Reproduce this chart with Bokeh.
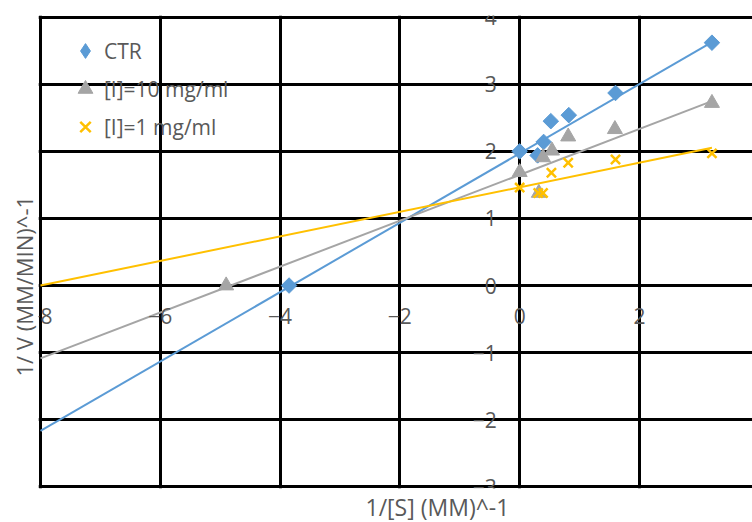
import numpy as np
from bokeh.plotting import figure
from bokeh.models import (LinearAxis, FixedTicker, Legend, LegendItem, Title,
                          Range1d, Grid)
from bokeh.embed import file_html
from bokeh.resources import INLINE

# ---- data ----
X_TICKS = [-8, -6, -4, -2, 0, 2, 4]
Y_TICKS = [-3, -2, -1, 0, 1, 2, 3, 4]

ctr_x = [-3.85, 0.0, 0.30, 0.40, 0.52, 0.82, 1.60, 3.21]
ctr_y = [0.0, 2.00, 1.94, 2.14, 2.45, 2.54, 2.87, 3.62]

i10_x = [-4.90, 0.0, 0.32, 0.39, 0.54, 0.81, 1.59, 3.21]
i10_y = [0.0, 1.69, 1.38, 1.91, 2.01, 2.22, 2.33, 2.72]

i1_x = [0.0, 0.31, 0.39, 0.53, 0.81, 1.60, 3.21]
i1_y = [1.46, 1.38, 1.38, 1.68, 1.83, 1.88, 1.97]

# linear trendlines (slope, intercept), drawn from x=-8 to the last point
trend_slope = [0.517, 0.342, 0.183]
trend_intercept = [1.97, 1.65, 1.465]
trend_x_start = -8.0

series_names = ["CTR", "[I]=10 mg/ml", "[I]=1 mg/ml"]
colors = ["#5B9BD5", "#A5A5A5", "#FFC000"]

x_title = "1/[S] (MM)^-1"
y_title = "1/ V (MM/MIN)^-1"

FONT = "Open Sans"
TXT = "#595959"

p = figure(width=752, height=522, output_backend="svg", toolbar_location=None,
           x_range=Range1d(-8.033, 3.887), y_range=Range1d(-3.025, 4.025),
           x_axis_location=None, y_axis_location=None,
           min_border_left=38, min_border_right=0, min_border_top=15,
           min_border_bottom=30)
p.outline_line_color = None
p.background_fill_color = "white"
p.border_fill_color = "white"

p.add_layout(Grid(dimension=0, ticker=FixedTicker(ticks=X_TICKS),
                  grid_line_color="black", grid_line_width=3))
p.add_layout(Grid(dimension=1, ticker=FixedTicker(ticks=Y_TICKS),
                  grid_line_color="black", grid_line_width=3))

def style_axis(ax, standoff):
    ax.axis_line_color = None
    ax.major_tick_line_color = None
    ax.minor_tick_line_color = None
    ax.major_label_text_color = TXT
    ax.major_label_text_font = FONT
    ax.major_label_text_font_size = "21px"
    ax.major_label_standoff = standoff

xaxis = LinearAxis(ticker=FixedTicker(ticks=X_TICKS), fixed_location=0)
style_axis(xaxis, 16)
p.add_layout(xaxis, "below")
yaxis = LinearAxis(ticker=FixedTicker(ticks=Y_TICKS), fixed_location=0)
style_axis(yaxis, 17)
p.add_layout(yaxis, "left")

# trendlines
xs_all = [ctr_x, i10_x, i1_x]
for k in range(3):
    xe = max(xs_all[k])
    tx = [trend_x_start, xe]
    ty = [trend_intercept[k] + trend_slope[k] * v for v in tx]
    p.line(tx, ty, line_color=colors[k], line_width=2)

r_ctr = p.scatter(ctr_x, ctr_y, marker="square", angle=np.pi / 4, size=11,
                  fill_color=colors[0], line_color=colors[0])
r_i10 = p.scatter(i10_x, i10_y, marker="triangle", size=15,
                  fill_color=colors[1], line_color=colors[1])
r_i1 = p.scatter(i1_x, i1_y, marker="x", size=13, line_width=2.5,
                 line_color=colors[2])
# legend-only glyph (diamond shape for the CTR key)
r_ctr_key = p.scatter(ctr_x, ctr_y, marker="diamond", size=15,
                      fill_color=colors[0], line_color=colors[0],
                      visible=False)

legend = Legend(items=[LegendItem(label=series_names[0], renderers=[r_ctr_key]),
                       LegendItem(label=series_names[1], renderers=[r_i10]),
                       LegendItem(label=series_names[2], renderers=[r_i1])],
                location=(28, 343), orientation="vertical",
                glyph_width=38, glyph_height=37, label_height=37,
                spacing=1, padding=0, margin=0, label_standoff=0,
                border_line_color=None, background_fill_alpha=0,
                inactive_fill_alpha=0,
                label_text_font=FONT, label_text_font_size="21px",
                label_text_color=TXT)
p.add_layout(legend)

p.add_layout(Title(text=x_title, align="left", offset=327, standoff=0,
                   text_font=FONT, text_font_size="23px",
                   text_line_height=0.85,
                   text_font_style="normal", text_color=TXT), "below")
p.add_layout(Title(text=y_title, align="left", offset=112, standoff=0,
                   text_font=FONT, text_font_size="22px",
                   text_font_style="normal", text_color=TXT), "left")

open("out.html", "w").write(file_html(p, INLINE))
